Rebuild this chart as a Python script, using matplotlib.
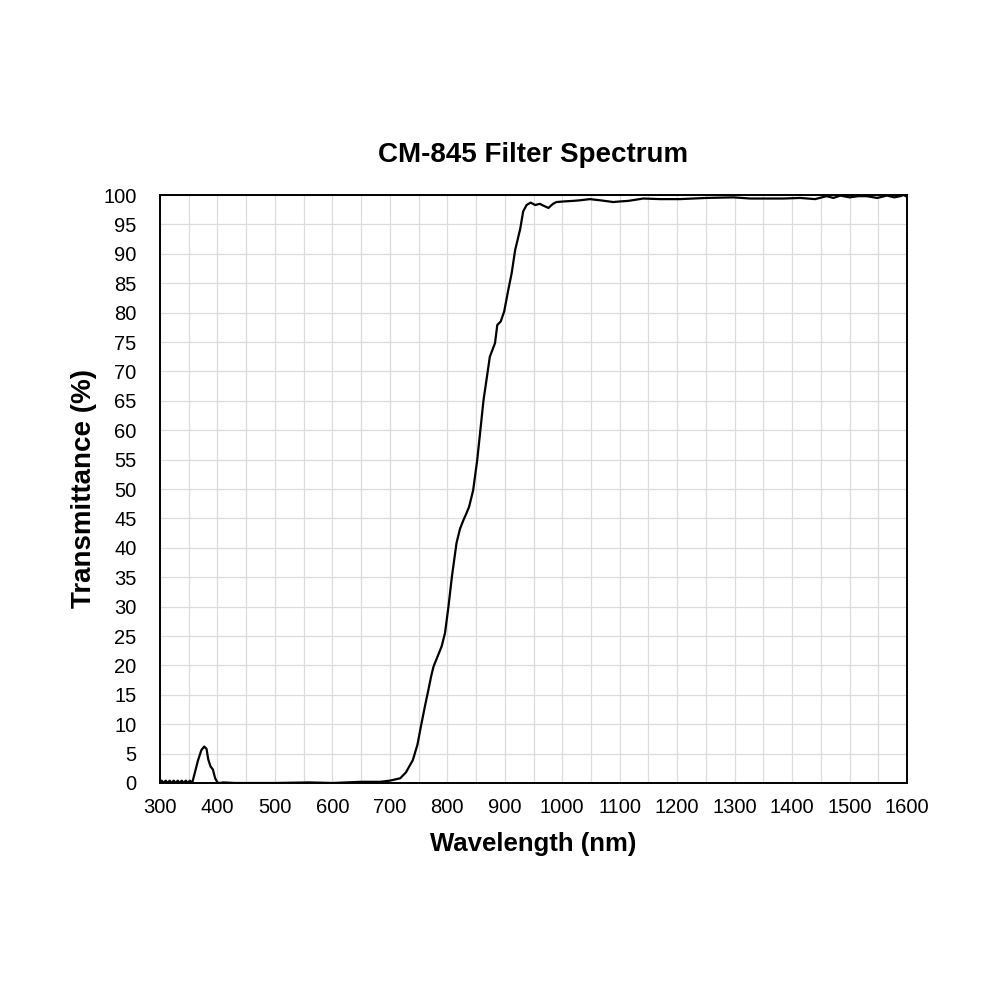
import matplotlib
matplotlib.use("Agg")
import matplotlib.pyplot as plt
from matplotlib.ticker import MultipleLocator

plt.rcParams['font.family'] = ['Liberation Sans', 'DejaVu Sans']

# wavelength (nm) and transmittance (%)
wavelength = [300, 303, 306, 310, 313, 317, 320, 324, 327, 331, 334, 338, 341, 345, 348, 352, 356,
              360, 366, 372, 377, 381, 384, 388, 392, 396, 400, 404, 410, 430, 450, 500, 560, 600,
              650, 683, 700, 718, 728, 740, 748, 755, 762, 767, 772, 776, 783, 790, 796, 802,
              808, 816, 822, 828, 833, 838, 845, 852, 857, 863, 869, 874, 883, 887, 893, 899,
              906, 912, 918, 927, 932, 938, 945, 953, 961, 967, 976, 984, 990, 1002, 1019,
              1031, 1048, 1066, 1089, 1100, 1115, 1141, 1170, 1205, 1251, 1298, 1327, 1385,
              1414, 1440, 1460, 1472, 1484, 1500, 1515, 1530, 1548, 1565, 1578, 1588, 1594, 1600]
transmittance = [0.0, 0.4, 0.0, 0.4, 0.0, 0.4, 0.0, 0.4, 0.0, 0.4, 0.0, 0.4, 0.0, 0.4, 0.0, 0.4, 0.0,
                 1.5, 3.8, 5.6, 6.2, 5.8, 4.0, 2.8, 2.3, 0.8, 0.1, 0.0, 0.1, 0.0, 0.0, 0.0, 0.1, 0.0,
                 0.2, 0.2, 0.4, 0.8, 1.8, 3.9, 6.5, 10.1, 13.5, 15.8, 18.2, 19.8, 21.5, 23.2, 25.5, 30.0,
                 35.1, 40.8, 43.2, 44.7, 45.8, 47.0, 49.8, 54.9, 59.5, 65.1, 69.1, 72.5, 74.8, 77.9, 78.5, 80.2,
                 83.8, 86.7, 90.6, 94.3, 97.2, 98.3, 98.7, 98.3, 98.5, 98.2, 97.8, 98.5, 98.8, 98.9, 99.0,
                 99.1, 99.3, 99.1, 98.8, 98.9, 99.0, 99.4, 99.3, 99.3, 99.5, 99.6, 99.4, 99.4,
                 99.5, 99.3, 99.8, 99.5, 99.9, 99.6, 99.8, 99.8, 99.5, 99.9, 99.6, 99.8, 100.0, 99.7]

fig = plt.figure(figsize=(10, 10), dpi=100)
ax = fig.add_axes([0.16, 0.217, 0.747, 0.588])

ax.plot(wavelength, transmittance, color='black', linewidth=1.6)

ax.set_xlim(300, 1600)
ax.set_ylim(0, 100)
ax.xaxis.set_major_locator(MultipleLocator(100))
ax.xaxis.set_minor_locator(MultipleLocator(50))
ax.yaxis.set_major_locator(MultipleLocator(5))
ax.grid(which='both', color='#dcdcdc', linewidth=0.9)
ax.set_axisbelow(True)
ax.tick_params(which='both', length=0, labelsize=14.5)
ax.tick_params(axis='y', pad=17)
ax.tick_params(axis='x', pad=11)

for sp in ax.spines.values():
    sp.set_linewidth(1.4)

ax.set_title('CM-845 Filter Spectrum', fontsize=20, fontweight='bold', pad=24)
ax.set_xlabel('Wavelength (nm)', fontsize=18.5, fontweight='bold')
ax.set_ylabel('Transmittance (%)', fontsize=20, fontweight='bold')
ax.xaxis.set_label_coords(0.5, -0.084)
ax.yaxis.set_label_coords(-0.084, 0.5)

fig.savefig('out.png', dpi=100, facecolor='white')
